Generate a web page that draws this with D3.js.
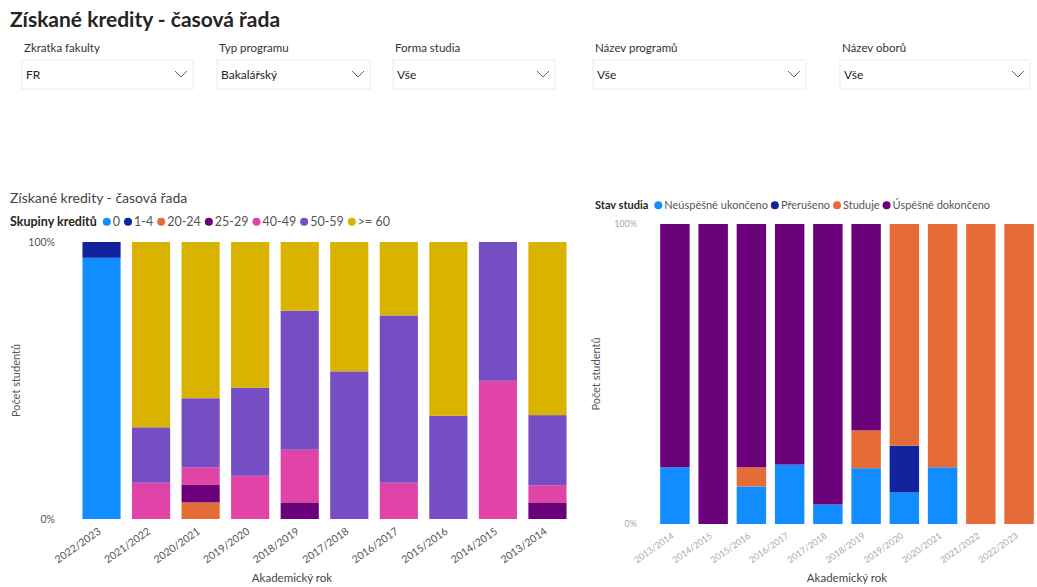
<!DOCTYPE html>
<html>
<head>
<meta charset="utf-8">
<script src="https://cdn.jsdelivr.net/npm/d3@7"></script>
<style>
  body { margin: 0; background: #fff; }
  text { font-family: "Lato", "Open Sans", sans-serif; }
</style>
</head>
<body>
<div class="chart"></div>
<script>
var W = 1037, H = 587;

// slicers
var slicerLabels = ["Zkratka fakulty", "Typ programu", "Forma studia", "Název programů", "Název oborů"];
var slicerValues = ["FR", "Bakalářský", "Vše", "Vše", "Vše"];

// left chart: credit groups per year
var leftYears = ["2022/2023", "2021/2022", "2020/2021", "2019/2020", "2018/2019",
  "2017/2018", "2016/2017", "2015/2016", "2014/2015", "2013/2014"];
var creditGroups = ["0", "1-4", "20-24", "25-29", "40-49", "50-59", ">= 60"];
var g0    = [94.3, 0, 0, 0, 0, 0, 0, 0, 0, 0];
var g1_4  = [5.7, 0, 0, 0, 0, 0, 0, 0, 0, 0];
var g20   = [0, 0, 6.0, 0, 0, 0, 0, 0, 0, 0];
var g25   = [0, 0, 6.3, 0, 6.0, 0, 0, 0, 0, 6.0];
var g40   = [0, 13.1, 6.4, 15.6, 19.0, 0, 13.1, 0, 49.9, 6.2];
var g50   = [0, 20.0, 24.9, 31.8, 50.2, 53.3, 60.4, 37.3, 50.1, 25.3];
var g60   = [0, 66.9, 56.4, 52.6, 24.8, 46.7, 26.5, 62.7, 0, 62.5];
var creditColors = ["#118DFF", "#12239E", "#E66C37", "#6B007B", "#E044A7", "#744EC2", "#D9B300"];

// right chart: study status per year
var rightYears = ["2013/2014", "2014/2015", "2015/2016", "2016/2017", "2017/2018",
  "2018/2019", "2019/2020", "2020/2021", "2021/2022", "2022/2023"];
var statuses = ["Neúspěšně ukončeno", "Přerušeno", "Studuje", "Úspěšně dokončeno"];
var neuspesne = [18.9, 0, 12.5, 19.8, 6.5, 18.6, 10.5, 18.9, 0, 0];
var preruseno = [0, 0, 0, 0, 0, 0, 15.6, 0, 0, 0];
var studuje   = [0, 0, 6.4, 0, 0, 12.6, 73.9, 81.1, 100, 100];
var uspesne   = [81.1, 100, 81.1, 80.2, 93.5, 68.8, 0, 0, 0, 0];
var statusColors = ["#118DFF", "#12239E", "#E66C37", "#6B007B"];

var yTicks = [0, 1];

var svg = d3.select('.chart').append('svg')
  .attr('width', W)
  .attr('height', H);

// page title
svg.append('text')
  .attr('x', 10).attr('y', 27)
  .attr('fill', '#252423')
  .style('font-size', '21px')
  .style('font-weight', 'bold')
  .text('Získané kredity - časová řada');

// slicer boxes
var slicerX = [22, 217, 393, 593, 840];
var slicerW = [171, 153, 162, 213, 190];
slicerLabels.forEach(function (lab, i) {
  var g = svg.append('g').attr('transform', 'translate(' + slicerX[i] + ',0)');
  g.append('text').attr('x', 2).attr('y', 52)
    .attr('fill', '#333').style('font-size', '11.5px').text(lab);
  g.append('rect').attr('x', 0).attr('y', 60)
    .attr('width', slicerW[i]).attr('height', 29)
    .attr('fill', '#fff').attr('stroke', '#ececec');
  g.append('text').attr('x', 4).attr('y', 79)
    .attr('fill', '#252423').style('font-size', '12px').text(slicerValues[i]);
  var cx = slicerW[i] - 12;
  g.append('path')
    .attr('d', 'M' + (cx - 6) + ',71 L' + cx + ',77 L' + (cx + 6) + ',71')
    .attr('fill', 'none').attr('stroke', '#666').attr('stroke-width', 1);
});

function drawLegend(x, y, title, names, colors, fs, spacing) {
  var g = svg.append('g').attr('transform', 'translate(' + x + ',' + y + ')');
  var t = g.append('text').attr('x', 0).attr('y', 0)
    .attr('fill', '#252423').style('font-size', fs + 'px').style('font-weight', 'bold')
    .text(title);
  var cx = t.node().getComputedTextLength() + 6;
  names.forEach(function (n, i) {
    g.append('circle').attr('cx', cx + 4).attr('cy', -fs * 0.35).attr('r', 4).attr('fill', colors[i]);
    var lt = g.append('text').attr('x', cx + 10).attr('y', 0)
      .attr('fill', '#555').style('font-size', fs + 'px').text(n);
    cx += 10 + lt.node().getComputedTextLength() + spacing;
  });
}

function drawChart(opt) {
  var x = d3.scaleBand().domain(opt.cats).range([opt.x0, opt.x1]).paddingInner(0.23).paddingOuter(0.11);
  var y = d3.scaleLinear().domain([0, 1]).range([opt.yb, opt.yt]);

  var rows = opt.cats.map(function (c, i) {
    var r = { cat: c };
    opt.keys.forEach(function (k, j) { r[k] = opt.series[j][i]; });
    return r;
  });
  var stacked = d3.stack().keys(opt.keys).offset(d3.stackOffsetExpand)(rows);

  var g = svg.append('g');
  g.selectAll('g.layer').data(stacked).enter().append('g')
    .attr('class', 'layer')
    .attr('fill', function (d, i) { return opt.colors[i]; })
    .selectAll('rect').data(function (d) { return d; }).enter().append('rect')
    .attr('x', function (d) { return x(d.data.cat); })
    .attr('y', function (d) { return y(d[1]); })
    .attr('height', function (d) { return Math.max(0, y(d[0]) - y(d[1])); })
    .attr('width', x.bandwidth());

  var yAxis = d3.axisLeft(y).tickValues(yTicks).tickFormat(d3.format('.0%')).tickSize(0).tickPadding(0);
  var ya = svg.append('g').attr('transform', 'translate(' + opt.yLabX + ',0)').call(yAxis);
  ya.select('.domain').remove();
  ya.selectAll('text').attr('fill', opt.tickColor).style('font-size', opt.tickFs + 'px')
    .style('font-family', 'Lato, sans-serif');

  var xAxis = d3.axisBottom(x).tickSize(0).tickPadding(0);
  var xa = svg.append('g').attr('transform', 'translate(0,' + (opt.yb + 8) + ')').call(xAxis);
  xa.select('.domain').remove();
  xa.selectAll('text')
    .attr('fill', opt.tickColor).style('font-size', opt.tickFs + 'px')
    .style('font-family', 'Lato, sans-serif')
    .attr('text-anchor', 'end')
    .attr('dy', '0.7em')
    .attr('transform', 'translate(-4,0) rotate(-35)');

  svg.append('text')
    .attr('transform', 'translate(' + opt.yTitleX + ',' + ((opt.yt + opt.yb) / 2) + ') rotate(-90)')
    .attr('text-anchor', 'middle')
    .attr('fill', '#555').style('font-size', '11px')
    .text('Počet studentů');

  svg.append('text')
    .attr('x', opt.xTitleX).attr('y', 582)
    .attr('text-anchor', 'middle')
    .attr('fill', '#444').style('font-size', '11.5px')
    .text('Akademický rok');
}

// left chart
svg.append('text')
  .attr('x', 10).attr('y', 203)
  .attr('fill', '#444').style('font-size', '14px')
  .text('Získané kredity - časová řada');
drawLegend(10, 226, 'Skupiny kreditů', creditGroups, creditColors, 12.5, 4);

drawChart({
  cats: leftYears, keys: creditGroups,
  series: [g0, g1_4, g20, g25, g40, g50, g60], colors: creditColors,
  x0: 77, x1: 572, yt: 242, yb: 519,
  yLabX: 55, tickColor: '#555', tickFs: 10.5, yTitleX: 20, xTitleX: 292
});

// right chart
drawLegend(595, 209, 'Stav studia', statuses, statusColors, 11, 3);

drawChart({
  cats: rightYears, keys: statuses,
  series: [neuspesne, preruseno, studuje, uspesne], colors: statusColors,
  x0: 656, x1: 1038, yt: 224, yb: 524,
  yLabX: 637, tickColor: '#aaa', tickFs: 9, yTitleX: 600, xTitleX: 847
});
</script>
</body>
</html>
